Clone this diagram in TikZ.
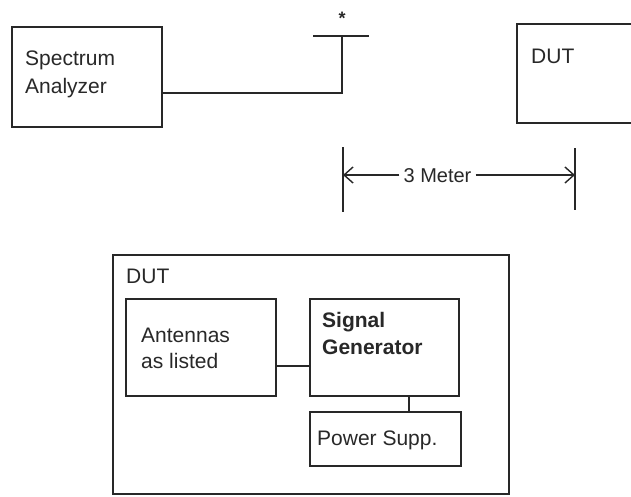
\documentclass[tikz,border=0pt]{standalone}
\usepackage{fontspec}
\setmainfont{Liberation Sans}
\usetikzlibrary{arrows.meta}
\definecolor{ink}{RGB}{40,40,40}
\tikzset{
  box/.style={draw=ink, line width=1.8pt, inner sep=0pt, outer sep=0pt},
  lbl/.style={anchor=base west, inner sep=0pt, text=ink, font=\fontsize{21}{24}\selectfont},
  wire/.style={draw=ink, line width=1.8pt},
  dimarrow/.style={draw=ink, line width=1.4pt, -{Straight Barb[length=9pt,width=16pt]}}
}
\begin{document}
\begin{tikzpicture}[x=1pt,y=-1pt]
\useasboundingbox (0,0) rectangle (631,496);
\clip (0,0) rectangle (631,496);
\fill[white] (0,0) rectangle (631,496);
% top part
\node[box, minimum width=150pt, minimum height=100pt] (sa) at (87,77) {};
\node[lbl] (satext1) at (25,65) {Spectrum};
\node[lbl] (satext2) at (25,93) {Analyzer};
\coordinate (ant) at (342,36);
\coordinate (barl) at (313,36);
\coordinate (barr) at (369,36);
\draw[wire] (barl) -- (barr);
\draw[wire] ([yshift=-16pt]sa.east) -| (ant);
\node[inner sep=0pt, text=ink, font=\fontsize{18}{18}\selectfont\bfseries] (star) at (342,18) {*};
\node[box, minimum width=150pt, minimum height=99pt] (dut1) at (592,73.5) {};
\node[lbl] (dut1text) at (531,63) {DUT};
% dimension
\coordinate (lt1) at (343,147);
\coordinate (lt2) at (343,212);
\coordinate (rt1) at (575,148);
\coordinate (rt2) at (575,210);
\draw[wire, line width=1.5pt] (lt1) -- (lt2);
\draw[wire, line width=1.5pt] (rt1) -- (rt2);
\node[inner sep=4pt, text=ink, font=\fontsize{20}{22}\selectfont] (meter) at (437.5,176) {3 Meter};
\coordinate (la) at (343,175);
\coordinate (ra) at (575,175);
\draw[dimarrow] (meter.west |- la) -- (la);
\draw[dimarrow] (meter.east |- ra) -- (ra);
% bottom part
\node[box, minimum width=396pt, minimum height=239pt] (dut2) at (311,374.5) {};
\node[lbl] (dut2text) at (126,283) {DUT};
\node[box, minimum width=150pt, minimum height=97pt] (ants) at (201,347.5) {};
\node[lbl] (antstext1) at (141,342) {Antennas};
\node[lbl] (antstext2) at (141,368) {as listed};
\node[box, minimum width=149pt, minimum height=97pt] (sg) at (384.5,347.5) {};
\node[lbl, font=\fontsize{21}{24}\selectfont\bfseries] (sgtext1) at (322,327) {Signal};
\node[lbl, font=\fontsize{21}{24}\selectfont\bfseries] (sgtext2) at (322,354) {Generator};
\node[box, minimum width=151pt, minimum height=54pt] (ps) at (385.5,439) {};
\node[lbl] (pstext) at (317,445) {Power Supp.};
\draw[wire] ([yshift=-18.5pt]ants.east) -- ([yshift=-18.5pt]sg.west);
\draw[wire] ([xshift=24.5pt]sg.south) -- ([xshift=24.5pt]sg.south |- ps.north);
\end{tikzpicture}
\end{document}
